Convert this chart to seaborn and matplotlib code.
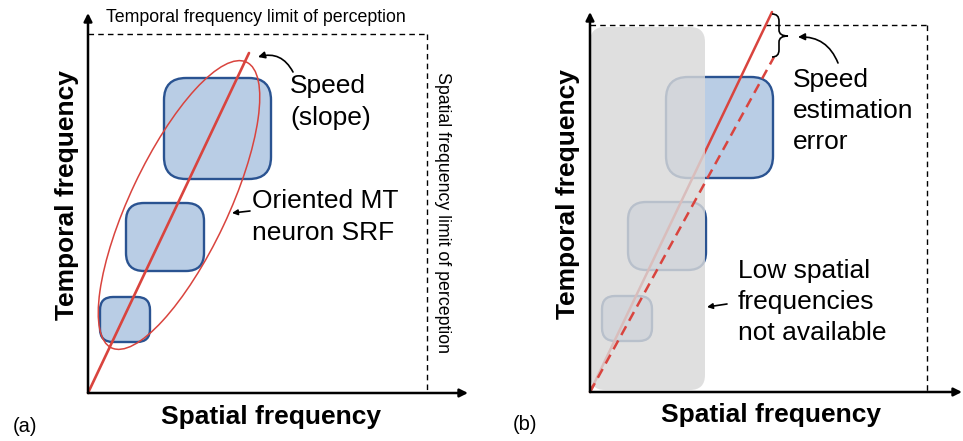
import numpy as np
import pandas as pd
import seaborn as sns
import matplotlib
matplotlib.use("Agg")
import matplotlib.pyplot as plt
from matplotlib.patches import FancyBboxPatch, Ellipse, PathPatch
from matplotlib.path import Path

sns.set_theme(style="white")
plt.rcParams["font.family"] = ["Liberation Sans", "DejaVu Sans"]

# ---------------- data (schematic units: 1 unit ~ 1 px, origin at axes corner) -------------
# tuning boxes (spatial freq lo, hi ; temporal freq lo, hi ; corner radius)
box_sf_lo = [76, 38, 12]
box_sf_hi = [183, 116, 62]
box_tf_lo = [214, 122, 51]
box_tf_hi = [315, 190, 96]
box_round = [22, 18, 13]

# speed lines (end points of line through origin)
speed_a = [161, 340]
speed_b_true = [182, 380]
speed_b_est = [184, 335]

# oriented MT neuron receptive field ellipse: centre, length, width, angle
srf_center = [91, 188]
srf_size = [316, 98]
srf_angle = 64.7

# perception limits
limit_a = [339, 359]   # spatial, temporal
limit_b = [337, 367]

# low spatial frequency mask in panel b
mask_sf = [0, 115]
mask_tf = [2, 365]

RED = "#D9443E"
FILL = "#B9CDE5"
EDGE = "#2A5391"

fig = plt.figure(figsize=(9.63, 4.41), dpi=100)
ax_a = fig.add_axes([0, 0, 481 / 963, 1])
ax_b = fig.add_axes([481 / 963, 0, 482 / 963, 1])
ax_a.set_xlim(-88, 393)
ax_a.set_ylim(-48, 393)
ax_b.set_xlim(-109, 373)
ax_b.set_ylim(-49, 392)
for ax in (ax_a, ax_b):
    ax.set_axis_off()


def draw_boxes(ax):
    for x0, x1, y0, y1, r in zip(box_sf_lo, box_sf_hi, box_tf_lo, box_tf_hi, box_round):
        ax.add_patch(FancyBboxPatch((x0, y0), x1 - x0, y1 - y0,
                                    boxstyle=f"round,pad=0,rounding_size={r}",
                                    fc=FILL, ec=EDGE, lw=1.7, zorder=2))


def draw_axes(ax, top, right, lim):
    arrow = dict(arrowstyle="-|>", lw=1.8, color="black", mutation_scale=12,
                 shrinkA=0, shrinkB=0)
    ax.annotate("", xy=(0, top), xytext=(0, 0), arrowprops=arrow, zorder=10)
    ax.annotate("", xy=(right, 0), xytext=(0, 0), arrowprops=arrow, zorder=10)
    ax.plot([0, lim[0]], [lim[1], lim[1]], color="black", lw=1.0, ls=(0, (4, 3)), zorder=1)
    ax.plot([lim[0], lim[0]], [lim[1], 0], color="black", lw=1.0, ls=(0, (4, 3)), zorder=1)


LS = 1.38

# ---------------- panel (a) ----------------
draw_boxes(ax_a)
sns.lineplot(x=[0, speed_a[0]], y=[0, speed_a[1]], ax=ax_a, color=RED, lw=1.9, zorder=4)
ax_a.add_patch(Ellipse(srf_center, srf_size[0], srf_size[1], angle=srf_angle,
                       fill=False, ec=RED, lw=1.1, zorder=4))
draw_axes(ax_a, 380, 380, limit_a)

ax_a.text(168, 375, "Temporal frequency limit of perception", ha="center", va="center",
          fontsize=12.8, color="black")
ax_a.text(354, 181, "Spatial frequency limit of perception", ha="center", va="center",
          rotation=-90, fontsize=12.8, color="black")
ax_a.text(202, 291, "Speed\n(slope)", ha="left", va="center", fontsize=19,
          linespacing=LS, color="black")
ax_a.text(164, 176, "Oriented MT\nneuron SRF", ha="left", va="center", fontsize=19,
          linespacing=LS, color="black")
ax_a.annotate("", xy=(170, 336), xytext=(205, 321),
              arrowprops=dict(arrowstyle="-|>", lw=1.2, color="black", mutation_scale=10,
                              connectionstyle="arc3,rad=0.4", shrinkA=0, shrinkB=0))
ax_a.annotate("", xy=(144, 180), xytext=(162, 182),
              arrowprops=dict(arrowstyle="-|>", lw=1.2, color="black", mutation_scale=8,
                              shrinkA=0, shrinkB=0))
ax_a.text(-21, 198, "Temporal frequency", rotation=90, ha="center", va="center",
          fontsize=19, fontweight="bold", color="black")
ax_a.text(183, -24, "Spatial frequency", ha="center", va="center",
          fontsize=19, fontweight="bold", color="black")
ax_a.text(-75, -34, "(a)", ha="left", va="center", fontsize=14.5, color="black")

# ---------------- panel (b) ----------------
draw_boxes(ax_b)
sns.lineplot(x=[0, speed_b_true[0]], y=[0, speed_b_true[1]], ax=ax_b, color=RED, lw=1.8, zorder=4)
ax_b.add_patch(FancyBboxPatch((mask_sf[0], mask_tf[0]), mask_sf[1] - mask_sf[0],
                              mask_tf[1] - mask_tf[0],
                              boxstyle="round,pad=0,rounding_size=15",
                              fc="#D9D9D9", ec="none", alpha=0.82, zorder=5))
sns.lineplot(x=[0, speed_b_est[0]], y=[0, speed_b_est[1]], ax=ax_b, color=RED, lw=1.8,
             zorder=6, linestyle=(0, (4, 2.5)))
draw_axes(ax_b, 380, 372, limit_b)

# curly brace between true and estimated speed line tops
bx0, bx1, btip = 182, 189, 198
yt, ym, yb = 378, 356, 335
brace = Path([(bx0, yt), (bx1, yt), (bx1, yt - 7), (bx1, ym + 6), (bx1, ym), (btip, ym),
              (bx1, ym), (bx1, ym - 6), (bx1, yb + 7), (bx1, yb), (bx0, yb)],
             [Path.MOVETO, Path.CURVE3, Path.CURVE3, Path.LINETO, Path.CURVE3, Path.CURVE3,
              Path.CURVE3, Path.CURVE3, Path.LINETO, Path.CURVE3, Path.CURVE3])
ax_b.add_patch(PathPatch(brace, fill=False, ec="black", lw=1.2, zorder=7))

ax_b.text(203, 281, "Speed\nestimation\nerror", ha="left", va="center", fontsize=19,
          linespacing=LS, color="black")
ax_b.text(148, 90, "Low spatial\nfrequencies\nnot available", ha="left", va="center",
          fontsize=19, linespacing=LS, color="black")
ax_b.annotate("", xy=(208, 355), xytext=(248, 329),
              arrowprops=dict(arrowstyle="-|>", lw=1.2, color="black", mutation_scale=10,
                              connectionstyle="arc3,rad=0.35", shrinkA=0, shrinkB=0))
ax_b.annotate("", xy=(117, 85), xytext=(137, 88),
              arrowprops=dict(arrowstyle="-|>", lw=1.2, color="black", mutation_scale=8,
                              shrinkA=0, shrinkB=0))
ax_b.text(-22, 198, "Temporal frequency", rotation=90, ha="center", va="center",
          fontsize=19, fontweight="bold", color="black")
ax_b.text(181, -23, "Spatial frequency", ha="center", va="center",
          fontsize=19, fontweight="bold", color="black")
ax_b.text(-77, -33, "(b)", ha="left", va="center", fontsize=14.5, color="black")

fig.savefig("out.png", dpi=100, facecolor="white")
